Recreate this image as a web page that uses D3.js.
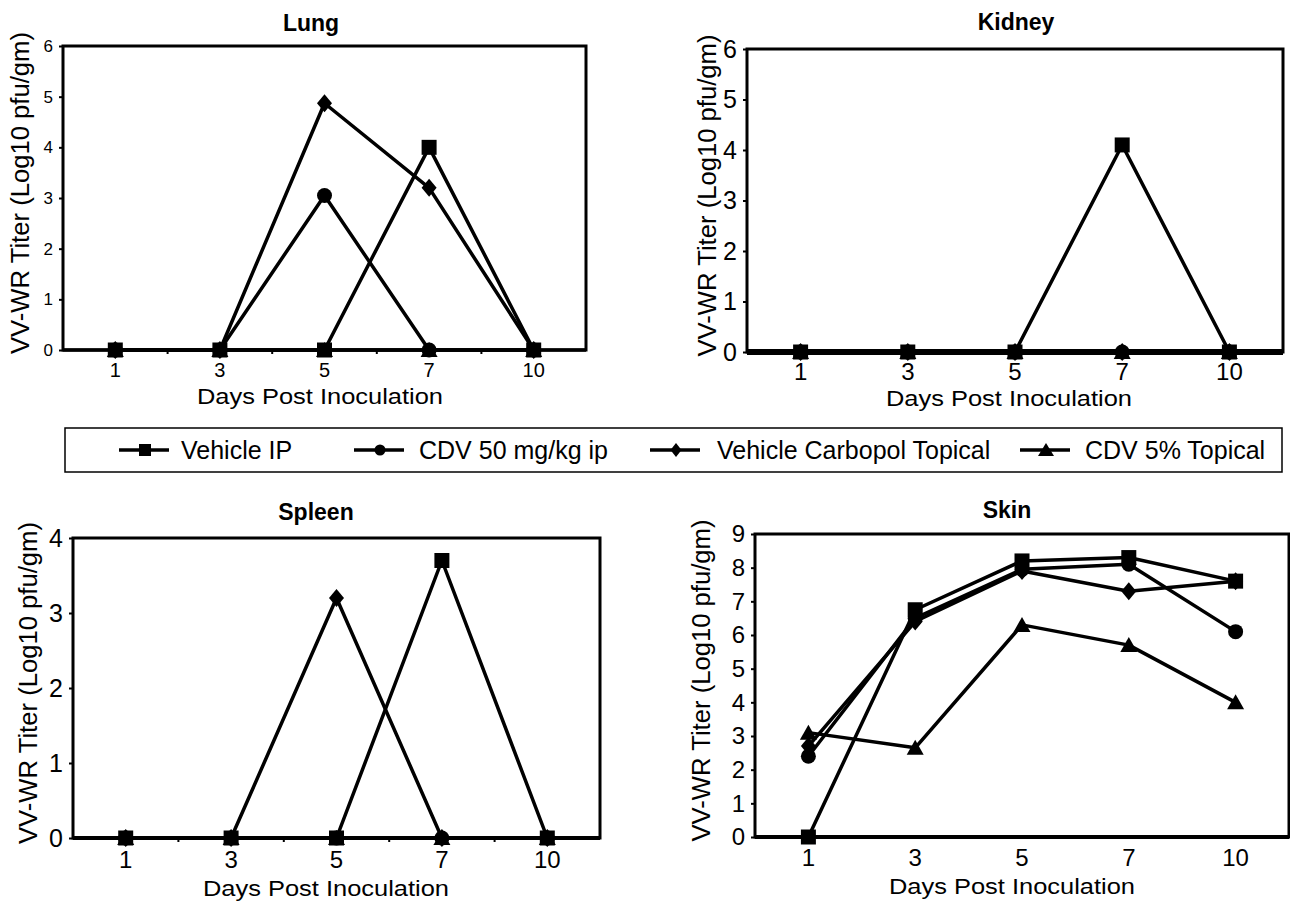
<!DOCTYPE html>
<meta charset="utf-8">
<script src="https://d3js.org/d3.v7.min.js"></script>
<style>
body { margin: 0; background: #fff; }
svg { display: block; font-family: "Liberation Sans", Arial, Helvetica, sans-serif; }
.tick line { stroke: #000; stroke-width: 2px; }
.tick text { fill: #000; }
</style>
<body>
<script>

// days on the x axis (categorical)
var days = ["1", "3", "5", "7", "10"];

var seriesNames = ["Vehicle IP", "CDV 50 mg/kg ip", "Vehicle Carbopol Topical", "CDV 5% Topical"];
var seriesMarkers = ["square", "circle", "diamond", "triangle"];

// titers, one row per series in the order above
var lungTiters = [
    [0, 0, 0, 4.0, 0],
    [0, 0, 3.05, 0, 0],
    [0, 0, 4.87, 3.2, 0],
    [0, 0, 0, 0, 0]
];
var kidneyTiters = [
    [0, 0, 0, 4.1, 0],
    [0, 0, 0, 0, 0],
    [0, 0, 0, 0, 0],
    [0, 0, 0, 0, 0]
];
var spleenTiters = [
    [0, 0, 0, 3.7, 0],
    [0, 0, 0, 0, 0],
    [0, 0, 3.2, 0, 0],
    [0, 0, 0, 0, 0]
];
var skinTiters = [
    [0, 6.75, 8.2, 8.3, 7.6],
    [2.4, 6.5, 7.95, 8.1, 6.1],
    [2.7, 6.4, 7.9, 7.3, 7.6],
    [3.1, 2.65, 6.3, 5.7, 4.0]
];

var yMaxLung = 6, yMaxKidney = 6, yMaxSpleen = 4, yMaxSkin = 9;

var xTitle = "Days Post Inoculation";
var yTitle = "VV-WR Titer (Log10 pfu/gm)";

var width = 1290, height = 903;

var svg = d3.select("body").append("svg")
    .attr("width", width)
    .attr("height", height);

// layout of each small chart
var panels = [
    { title: "Lung", values: lungTiters, yMax: yMaxLung,
      left: 63, right: 586, top: 46, bottom: 350, baseW: 3.5,
      yFont: 17, xFont: 20, titleX: 311, titleY: 23,
      xTickY: 370, xTitleX: 320, xTitleY: 396, yTitleX: 20, boundaryTicks: true },
    { title: "Kidney", values: kidneyTiters, yMax: yMaxKidney,
      left: 747, right: 1283, top: 49, bottom: 352, baseW: 6,
      yFont: 25, xFont: 24, titleX: 1016, titleY: 22,
      xTickY: 372, xTitleX: 1009, xTitleY: 398, yTitleX: 707, boundaryTicks: false },
    { title: "Spleen", values: spleenTiters, yMax: yMaxSpleen,
      left: 73, right: 600, top: 538, bottom: 838, baseW: 4,
      yFont: 25, xFont: 24, titleX: 316, titleY: 512,
      xTickY: 860, xTitleX: 326, xTitleY: 888, yTitleX: 28, boundaryTicks: true },
    { title: "Skin", values: skinTiters, yMax: yMaxSkin,
      left: 755, right: 1289, top: 534, bottom: 837, baseW: 4,
      yFont: 24, xFont: 24, titleX: 1007, titleY: 510,
      xTickY: 858, xTitleX: 1012, xTitleY: 886, yTitleX: 701, boundaryTicks: false }
];

// marker shapes, centred on 0,0
function markerPath(kind, s) {
    var p = d3.path();
    if (kind == "square") {
        p.rect(-s.sq / 2, -s.sq / 2, s.sq, s.sq);
    } else if (kind == "circle") {
        p.arc(0, 0, s.r, 0, 2 * Math.PI);
    } else if (kind == "diamond") {
        p.moveTo(0, -s.dh / 2);
        p.lineTo(s.dw / 2, 0);
        p.lineTo(0, s.dh / 2);
        p.lineTo(-s.dw / 2, 0);
        p.closePath();
    } else {
        p.moveTo(0, -s.th / 2 - 1);
        p.lineTo(s.tw / 2, s.th / 2);
        p.lineTo(-s.tw / 2, s.th / 2);
        p.closePath();
    }
    return p.toString();
}

var plotSizes = { sq: 15, r: 7.5, dw: 15, dh: 18, tw: 17, th: 14 };
var legendSizes = { sq: 12, r: 5.5, dw: 11, dh: 14, tw: 16, th: 12 };

panels.forEach(function (pn) {
    var g = svg.append("g");

    var x = d3.scaleBand()
        .domain(days)
        .range([pn.left, pn.right])
        .padding(0);
    var bw = x.bandwidth();

    var y = d3.scaleLinear()
        .domain([0, pn.yMax])
        .range([pn.bottom, pn.top]);

    // frame
    g.append("rect")
        .attr("x", pn.left)
        .attr("y", pn.top)
        .attr("width", pn.right - pn.left)
        .attr("height", pn.bottom - pn.top)
        .attr("fill", "none")
        .attr("stroke", "#000")
        .attr("stroke-width", 3);

    // y axis
    var yAxis = g.append("g")
        .attr("transform", "translate(" + pn.left + ",0)")
        .call(d3.axisLeft(y).ticks(pn.yMax).tickSize(4).tickPadding(6));
    yAxis.select(".domain").remove();
    yAxis.selectAll("text").style("font-size", pn.yFont + "px");

    // x axis (labels only, at band centres)
    var xAxis = g.append("g")
        .attr("transform", "translate(0," + pn.bottom + ")")
        .call(d3.axisBottom(x).tickSize(0));
    xAxis.select(".domain").remove();
    xAxis.selectAll("text")
        .attr("y", pn.xTickY - pn.bottom)
        .attr("dy", "0.35em")
        .style("font-size", pn.xFont + "px");

    if (pn.boundaryTicks) {
        g.selectAll(".btick")
            .data(days.slice(1))
            .enter().append("line")
            .attr("class", "btick")
            .attr("x1", function (d) { return x(d); })
            .attr("x2", function (d) { return x(d); })
            .attr("y1", pn.bottom)
            .attr("y2", pn.bottom + 4)
            .attr("stroke", "#000")
            .attr("stroke-width", 2);
    }

    // zero baseline
    g.append("line")
        .attr("x1", pn.left)
        .attr("x2", pn.right)
        .attr("y1", y(0))
        .attr("y2", y(0))
        .attr("stroke", "#000")
        .attr("stroke-width", pn.baseW);

    var line = d3.line()
        .x(function (v, i) { return x(days[i]) + bw / 2; })
        .y(function (v) { return y(v); });

    // draw series back to front so squares end on top
    var order = [1, 2, 3, 0];
    order.forEach(function (si) {
        var vals = pn.values[si];
        g.append("path")
            .datum(vals)
            .attr("d", line)
            .attr("fill", "none")
            .attr("stroke", "#000")
            .attr("stroke-width", 3.5)
            .attr("stroke-linejoin", "round");
    });
    order.forEach(function (si) {
        var vals = pn.values[si];
        g.selectAll(".m" + si)
            .data(vals)
            .enter().append("path")
            .attr("class", "m" + si)
            .attr("transform", function (v, i) {
                return "translate(" + (x(days[i]) + bw / 2) + "," + y(v) + ")";
            })
            .attr("d", markerPath(seriesMarkers[si], plotSizes))
            .attr("fill", "#000");
    });

    // titles
    g.append("text")
        .attr("x", pn.titleX)
        .attr("y", pn.titleY)
        .attr("dy", "0.35em")
        .attr("text-anchor", "middle")
        .style("font-size", "23px")
        .style("font-weight", "bold")
        .text(pn.title);

    g.append("text")
        .attr("x", pn.xTitleX)
        .attr("y", pn.xTitleY)
        .attr("dy", "0.35em")
        .attr("text-anchor", "middle")
        .style("font-size", "22px")
        .attr("textLength", 246)
        .attr("lengthAdjust", "spacingAndGlyphs")
        .text(xTitle);

    var yMid = (pn.top + pn.bottom) / 2 - 5;
    g.append("text")
        .attr("transform", "translate(" + pn.yTitleX + "," + yMid + ") rotate(-90)")
        .attr("dy", "0.35em")
        .attr("text-anchor", "middle")
        .style("font-size", "25px")
        .attr("textLength", 322)
        .attr("lengthAdjust", "spacingAndGlyphs")
        .text(yTitle);
});

// legend
var legendX = [119, 354, 650, 1020];
var legendTextX = [181, 419, 717, 1085];
var legendY = 450;

svg.append("rect")
    .attr("x", 65)
    .attr("y", 428)
    .attr("width", 1282 - 65)
    .attr("height", 44)
    .attr("fill", "none")
    .attr("stroke", "#000")
    .attr("stroke-width", 1.5);

var items = svg.selectAll(".legend-item")
    .data(seriesNames)
    .enter().append("g")
    .attr("class", "legend-item");

items.append("line")
    .attr("x1", function (d, i) { return legendX[i]; })
    .attr("x2", function (d, i) { return legendX[i] + 50; })
    .attr("y1", legendY)
    .attr("y2", legendY)
    .attr("stroke", "#000")
    .attr("stroke-width", 3.5);

items.append("path")
    .attr("transform", function (d, i) { return "translate(" + (legendX[i] + 26) + "," + legendY + ")"; })
    .attr("d", function (d, i) { return markerPath(seriesMarkers[i], legendSizes); })
    .attr("fill", "#000");

items.append("text")
    .attr("x", function (d, i) { return legendTextX[i]; })
    .attr("y", legendY)
    .attr("dy", "0.35em")
    .style("font-size", "25px")
    .text(function (d) { return d; });

</script>
</body>
